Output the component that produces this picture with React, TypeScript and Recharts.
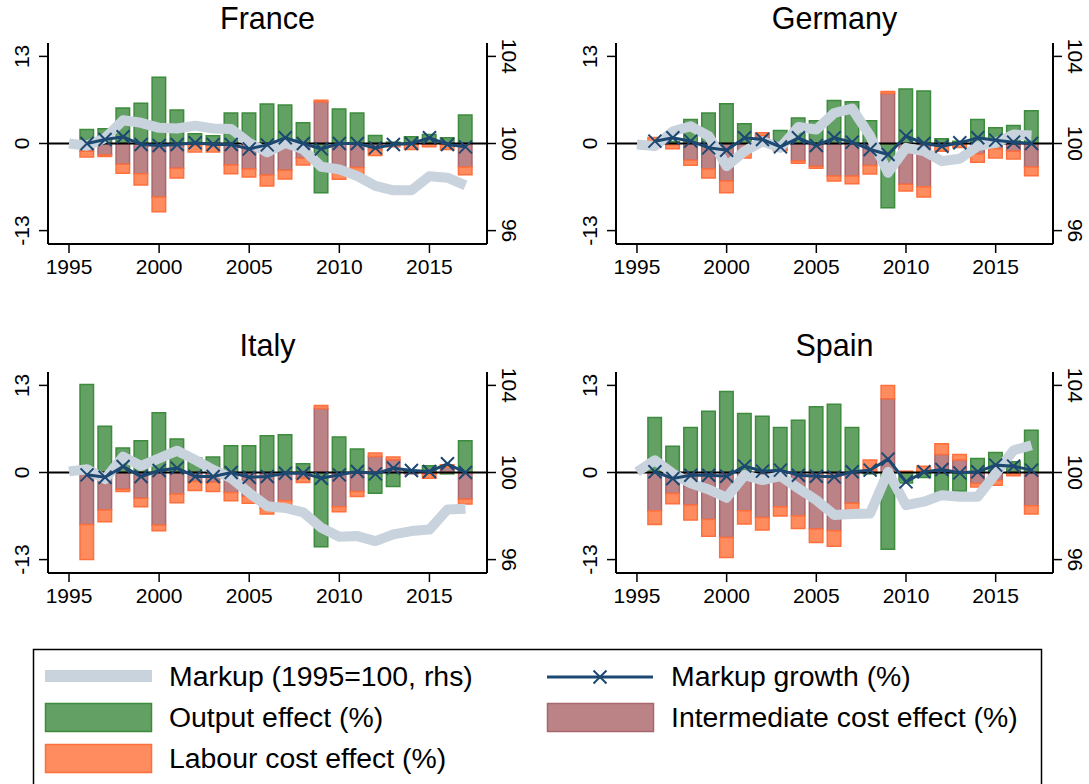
import { Bar, ComposedChart, Line, ReferenceLine, XAxis, YAxis } from 'recharts';

const years = [
  1995, 1996, 1997, 1998, 1999, 2000, 2001, 2002, 2003, 2004, 2005, 2006,
  2007, 2008, 2009, 2010, 2011, 2012, 2013, 2014, 2015, 2016, 2017,
];
const leftTicks = [-13, 0, 13];
const rightTicks = [96, 100, 104];

// effects and growth: 1996-2017, markup index: 1995-2017
const franceOutput = [2.1, 2.2, 5.3, 6.0, 9.9, 5.0, 1.45, 1.15, 4.55, 4.55, 5.9, 5.75, 3.1, -7.35, 5.15, 4.55, 1.2, 0.2, 1.0, 1.35, 0.85, 4.25];
const franceInter = [-1.15, -1.7, -3.1, -4.5, -8.0, -3.7, -0.3, -0.2, -3.2, -3.8, -4.7, -4.0, -2.2, 6.2, -4.4, -3.6, -0.9, -0.2, -0.2, -0.1, -0.2, -3.5];
const franceLabour = [-0.85, -0.25, -1.35, -1.7, -2.2, -1.45, -0.95, -1.05, -1.3, -1.2, -1.65, -1.3, -1.0, 0.25, -0.95, -1.2, -0.9, -0.3, -0.7, -0.4, -0.7, -1.15];
const franceGrowth = [0, 0.6, 1.0, -0.15, -0.3, -0.15, 0.1, -0.15, -0.15, -0.8, -0.2, 0.85, 0, -0.8, 0, 0, -0.65, -0.15, 0, 0.85, -0.15, -0.5];
const franceMarkup = [100.0, 99.9, 100.25, 101.07, 100.95, 100.72, 100.69, 100.82, 100.69, 100.67, 100.03, 99.6, 100.03, 99.73, 98.93, 98.81, 98.5, 98.05, 97.85, 97.85, 98.5, 98.43, 98.08];

const germanyOutput = [0, 0.3, 3.6, 4.55, 5.95, 2.95, -0.3, 1.95, 3.8, 3.4, 6.4, 6.25, 3.4, -9.6, 8.15, 7.85, 0.7, 0.35, 3.6, 2.35, 2.7, 4.9];
const germanyInter = [0.3, -0.2, -2.5, -3.8, -5.6, -1.5, 1.2, -0.9, -2.6, -3.4, -4.85, -4.85, -3.3, 7.45, -6.1, -6.45, -0.3, -0.1, -1.55, -0.8, -1.15, -3.5];
const germanyLabour = [0.6, -0.6, -0.75, -1.35, -1.75, -0.65, 0.4, -0.2, -0.35, -0.3, -0.75, -1.15, -1.25, 0.3, -1.0, -1.55, -0.85, -0.5, -1.25, -1.35, -1.15, -1.3];
const germanyGrowth = [0.35, 0.85, 0.35, -0.65, -1.0, 0.85, 0.6, -0.5, 0.85, -0.3, 0.85, 0.2, -0.9, -1.65, 1.1, 0, -0.4, 0.1, 0.85, 0.5, 0.2, 0];
const germanyMarkup = [99.95, 99.88, 100.56, 100.79, 100.34, 98.96, 99.65, 100.1, 99.8, 100.76, 100.64, 101.4, 101.6, 100.34, 98.66, 99.8, 99.65, 99.19, 99.3, 99.88, 100.03, 100.41, 100.37];

const italyOutput = [13.15, 6.9, 3.65, 4.75, 8.9, 5.0, 2.15, 2.3, 4.0, 4.0, 5.5, 5.65, 1.3, -11.1, 5.3, 3.5, -3.1, -2.1, 0.3, 1.0, -0.2, 4.75];
const italyInter = [-7.75, -5.6, -2.5, -3.85, -7.85, -3.2, -1.35, -1.45, -3.0, -3.6, -5.35, -4.2, -0.85, 9.55, -5.1, -2.85, 2.4, 1.9, -0.2, -0.2, 0.8, -4.0];
const italyLabour = [-5.25, -1.75, -0.35, -1.25, -0.85, -1.3, -1.35, -1.4, -1.2, -1.0, -0.85, -0.65, -0.65, 0.45, -0.75, -0.75, 0.5, 0.4, 0, -0.65, 0.35, -0.7];
const italyGrowth = [-0.35, -0.7, 0.9, -0.6, 0.3, 0.65, -0.6, -0.6, 0, -0.7, -0.6, -0.1, -0.1, -0.85, -0.35, 0.15, -0.2, 0.65, 0.3, 0.15, 1.3, 0];
const italyMarkup = [100.05, 100.15, 99.7, 100.73, 100.3, 100.65, 101.0, 100.58, 100.12, 99.74, 99.06, 98.45, 98.37, 98.17, 97.46, 97.05, 97.08, 96.85, 97.16, 97.31, 97.38, 98.3, 98.34];

const spainOutput = [8.2, 3.9, 6.7, 9.15, 12.1, 8.8, 8.4, 6.7, 7.8, 9.8, 10.2, 6.7, -0.2, -11.45, -1.55, -0.75, -3.1, -2.75, 2.1, 3.0, 1.6, 6.3];
const spainInter = [-5.7, -3.15, -4.85, -7.0, -9.7, -5.7, -6.7, -5.1, -6.45, -8.45, -8.7, -4.6, 0.3, 11.0, 0, 0.2, 2.7, 1.85, -1.65, -1.2, -0.2, -4.95];
const spainLabour = [-2.05, -1.5, -2.25, -2.5, -3.0, -2.0, -1.9, -1.4, -1.9, -2.0, -2.3, -1.0, 1.55, 2.0, 0.2, 0.75, 1.6, 0.85, -0.5, -0.7, -0.3, -1.25];
const spainGrowth = [0.1, -0.9, -0.4, -0.4, -0.55, 0.95, 0.2, 0.35, -0.4, -0.55, -0.65, 0.1, 0.35, 2.0, -1.4, 0.1, 0.45, -0.05, 0.1, 1.1, 0.95, 0.35];
const spainMarkup = [100.03, 100.56, 99.95, 99.5, 99.22, 98.84, 99.88, 99.65, 99.83, 99.27, 98.73, 98.05, 98.09, 98.12, 100.03, 98.5, 98.66, 98.96, 98.89, 98.89, 99.95, 101.02, 101.25];

const FONT = '"Liberation Sans", Arial, sans-serif';
const GREEN = '#63a063';
const GREEN_EDGE = '#3d8b3d';
const PINK = '#bc8387';
const PINK_EDGE = '#a8676c';
const ORANGE = '#ff8c5f';
const ORANGE_EDGE = '#ff6f3c';
const NAVY = '#1c4872';
const GREY = '#c9d3dd';

function buildRows(output: number[], inter: number[], labour: number[], growth: number[], markup: number[]) {
  return years.map((year, i) => ({
    year,
    markup: markup[i],
    growth: i === 0 ? null : growth[i - 1],
    output: i === 0 ? 0 : output[i - 1],
    inter: i === 0 ? 0 : inter[i - 1],
    labour: i === 0 ? 0 : labour[i - 1],
  }));
}

const XTick = ({ x, payload }: any) => (
  <text x={x} y={274} textAnchor="middle" fontSize={21} fontFamily={FONT} fill="#000">
    {payload.value}
  </text>
);

const LeftTick = ({ y, payload, lx }: any) => (
  <text x={lx} y={y} transform={`rotate(-90 ${lx} ${y})`} textAnchor="middle" fontSize={21} fontFamily={FONT} fill="#000">
    {payload.value}
  </text>
);

const RightTick = ({ y, payload, rx }: any) => (
  <text x={rx} y={y} transform={`rotate(90 ${rx} ${y})`} textAnchor="middle" fontSize={21} fontFamily={FONT} fill="#000">
    {payload.value}
  </text>
);

const XDot = (props: any) => {
  const { cx, cy, index, value } = props;
  if (cx == null || cy == null || value == null) return <g key={index} />;
  const s = 6.5;
  return (
    <path
      key={index}
      d={`M${cx - s},${cy - s}L${cx + s},${cy + s}M${cx - s},${cy + s}L${cx + s},${cy - s}`}
      stroke={NAVY}
      strokeWidth={2}
      fill="none"
    />
  );
};

const axisLine = { stroke: '#000', strokeWidth: 2 };
const tickLine = { stroke: '#000', strokeWidth: 1.5 };
// 23 yearly bands of 18px, 1995 sits ~21px in from the frame
const xPad = { left: 12, right: 12.5 };

function Panel({ rows, left, top, width, leftW, rightW }: any) {
  const plotRight = width - rightW;
  return (
    <div style={{ position: 'absolute', left, top, width, height: 290 }}>
      <ComposedChart
        width={width}
        height={290}
        data={rows}
        stackOffset="sign"
        barCategoryGap={0}
        margin={{ top: 43, right: 0, bottom: 0, left: 0 }}
      >
        <XAxis
          dataKey="year"
          type="category"
          interval={4}
          padding={xPad}
          height={46}
          tickSize={9}
          tickMargin={0}
          axisLine={axisLine}
          tickLine={tickLine}
          tick={<XTick />}
        />
        <XAxis
          xAxisId="top"
          orientation="top"
          dataKey="year"
          type="category"
          padding={xPad}
          height={0}
          tick={false}
          tickLine={false}
          axisLine={axisLine}
        />
        <YAxis
          yAxisId="l"
          width={leftW}
          domain={[-15, 15]}
          allowDataOverflow
          ticks={leftTicks}
          interval={0}
          tickSize={9}
          tickMargin={0}
          axisLine={axisLine}
          tickLine={tickLine}
          tick={<LeftTick lx={leftW - 19} />}
        />
        <YAxis
          yAxisId="r"
          orientation="right"
          width={rightW}
          domain={[95.385, 104.615]}
          allowDataOverflow
          ticks={rightTicks}
          interval={0}
          tickSize={9}
          tickMargin={0}
          axisLine={axisLine}
          tickLine={tickLine}
          tick={<RightTick rx={plotRight + 14.5} />}
        />
        <ReferenceLine yAxisId="l" y={0} stroke="#000" strokeWidth={2} />
        <Bar dataKey="output" yAxisId="l" stackId="s" barSize={13.5} fill={GREEN} stroke={GREEN_EDGE} strokeWidth={1.5} isAnimationActive={false} />
        <Bar dataKey="inter" yAxisId="l" stackId="s" barSize={13.5} fill={PINK} stroke={PINK_EDGE} strokeWidth={1.5} isAnimationActive={false} />
        <Bar dataKey="labour" yAxisId="l" stackId="s" barSize={13.5} fill={ORANGE} stroke={ORANGE_EDGE} strokeWidth={1.5} isAnimationActive={false} />
        <Line
          dataKey="markup"
          yAxisId="r"
          type="linear"
          stroke={GREY}
          strokeWidth={10}
          strokeLinejoin="round"
          dot={false}
          activeDot={false}
          isAnimationActive={false}
        />
        <Line
          dataKey="growth"
          yAxisId="l"
          type="linear"
          stroke={NAVY}
          strokeWidth={3}
          dot={XDot}
          activeDot={false}
          isAnimationActive={false}
        />
      </ComposedChart>
    </div>
  );
}

const legendText = { fontSize: 28.4, fontFamily: FONT, fill: '#000' };

export default function App() {
  const france = buildRows(franceOutput, franceInter, franceLabour, franceGrowth, franceMarkup);
  const germany = buildRows(germanyOutput, germanyInter, germanyLabour, germanyGrowth, germanyMarkup);
  const italy = buildRows(italyOutput, italyInter, italyLabour, italyGrowth, italyMarkup);
  const spain = buildRows(spainOutput, spainInter, spainLabour, spainGrowth, spainMarkup);

  return (
    <div style={{ position: 'absolute', left: 0, top: 0, width: 1089, height: 784, overflow: 'hidden', background: '#fff' }}>
      <Panel rows={france} left={0} top={0} width={544} leftW={48} rightW={57} />
      <Panel rows={germany} left={544} top={0} width={545} leftW={72} rightW={36} />
      <Panel rows={italy} left={0} top={329} width={544} leftW={48} rightW={57} />
      <Panel rows={spain} left={544} top={329} width={545} leftW={72} rightW={36} />
      <svg width={1089} height={784} style={{ position: 'absolute', left: 0, top: 0, pointerEvents: 'none' }}>
        <g fontSize={30.5} fontFamily={FONT} fill="#000" textAnchor="middle">
          <text x={267.5} y={29}>France</text>
          <text x={834.5} y={29}>Germany</text>
          <text x={267.5} y={356}>Italy</text>
          <text x={834.5} y={356}>Spain</text>
        </g>
        <rect x={33.5} y={649.5} width={1008} height={200} fill="none" stroke="#000" strokeWidth={1.5} />
        <rect x={45} y={670} width={107} height={12} fill={GREY} />
        <text x={169} y={686} {...legendText}>Markup (1995=100, rhs)</text>
        <rect x={45.5} y={703.5} width={106} height={28} fill={GREEN} stroke={GREEN_EDGE} strokeWidth={1.5} />
        <text x={169} y={727} {...legendText}>Output effect (%)</text>
        <rect x={45.5} y={744.5} width={106} height={28} fill={ORANGE} stroke={ORANGE_EDGE} strokeWidth={1.5} />
        <text x={169} y={768} {...legendText}>Labour cost effect (%)</text>
        <line x1={547} y1={677} x2={653} y2={677} stroke={NAVY} strokeWidth={3} />
        <path d="M593.5,670.5L606.5,683.5M593.5,683.5L606.5,670.5" stroke={NAVY} strokeWidth={2} />
        <text x={671} y={686} {...legendText}>Markup growth (%)</text>
        <rect x={547.5} y={703.5} width={106} height={28} fill={PINK} stroke={PINK_EDGE} strokeWidth={1.5} />
        <text x={671} y={727} {...legendText}>Intermediate cost effect (%)</text>
      </svg>
    </div>
  );
}
